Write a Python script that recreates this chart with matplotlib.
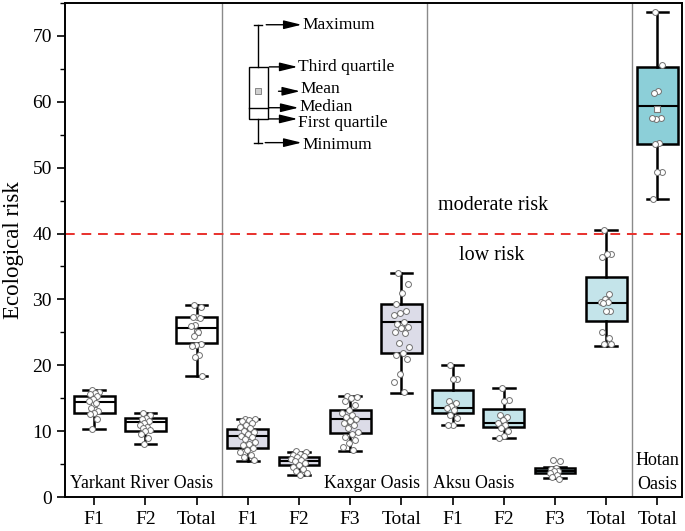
import matplotlib
matplotlib.use("Agg")
import matplotlib.pyplot as plt
import numpy as np
from matplotlib.ticker import MultipleLocator

plt.rcParams['font.family'] = ['Liberation Serif', 'DejaVu Serif']

# ---------------- data ----------------
categories = ["F1", "F2", "Total", "F1", "F2", "F3", "Total",
              "F1", "F2", "F3", "Total", "Total"]
group_names = ["Yarkant River Oasis", "Kaxgar Oasis", "Aksu Oasis", "Hotan\nOasis"]
box_group = [0, 0, 0, 1, 1, 1, 1, 2, 2, 2, 2, 3]

whislo = [10.3, 8.1, 18.3, 5.5, 3.4, 7.0, 15.8, 10.9, 9.0, 2.9, 23.0, 45.3]
q1 = [12.8, 10.0, 23.4, 7.5, 4.85, 9.65, 21.9, 12.8, 10.6, 3.7, 26.7, 53.6]
med = [14.4, 11.4, 25.7, 9.3, 5.45, 11.9, 26.5, 13.5, 11.3, 4.0, 29.4, 59.4]
q3 = [15.3, 12.0, 27.3, 10.3, 6.0, 13.2, 29.3, 16.2, 13.3, 4.35, 33.4, 65.3]
whishi = [16.2, 12.8, 29.1, 11.8, 6.9, 15.3, 34.0, 20.1, 16.5, 4.5, 40.5, 73.6]
means = [14.1, 11.0, 25.0, 9.2, 5.5, 11.6, 25.9, 14.0, 11.8, 4.0, 29.8, 58.9]

points = [
    [16.2, 16.0, 15.8, 15.6, 15.3, 14.9, 14.5, 14.3, 13.5, 13.0, 12.8, 12.6, 11.9, 10.3],
    [12.8, 12.5, 12.0, 11.9, 11.5, 11.2, 11.0, 10.7, 10.4, 10.2, 10.0, 9.6, 9.0, 8.1],
    [29.1, 28.9, 27.4, 27.3, 27.2, 26.1, 25.9, 25.0, 24.4, 23.3, 23.1, 23.0, 21.6, 21.3, 18.3],
    [11.9, 11.8, 11.7, 11.6, 11.2, 10.9, 10.6, 10.4, 10.0, 9.8, 9.6, 9.3, 9.1, 8.8,
     8.4, 8.1, 7.9, 7.5, 7.2, 6.9, 6.4, 6.0, 5.6],
    [7.0, 6.9, 6.6, 6.4, 6.2, 6.0, 5.8, 5.6, 5.4, 5.2, 4.9, 4.6, 4.3, 4.0, 3.7, 3.4],
    [15.3, 15.2, 15.0, 14.5, 13.9, 13.2, 12.8, 12.4, 12.1, 11.9, 11.6, 11.2, 10.9,
     10.5, 9.9, 9.5, 9.1, 8.6, 8.2, 7.6, 7.1],
    [34.0, 32.4, 31.0, 29.3, 28.2, 27.9, 27.6, 26.6, 26.2, 25.8, 25.6, 25.0, 24.9,
     23.4, 22.8, 21.9, 21.6, 21.0, 18.7, 17.4, 15.9],
    [20.1, 17.9, 17.9, 14.6, 14.2, 13.8, 13.5, 13.2, 12.5, 12.0, 11.0, 10.9],
    [16.5, 14.7, 14.6, 12.5, 12.1, 11.7, 11.3, 11.0, 10.5, 10.0, 9.3, 9.0],
    [5.6, 5.5, 4.4, 4.2, 4.0, 3.9, 3.7, 3.4, 3.0, 2.7],
    [40.5, 36.9, 36.9, 36.4, 30.8, 30.1, 29.6, 29.6, 29.5, 28.3, 28.2, 25.0, 24.2, 23.2, 23.2],
    [73.6, 65.6, 61.6, 61.4, 57.5, 57.4, 57.6, 53.7, 53.6, 49.4, 49.3, 45.3],
]

group_colors = ["white", "#dcdce8", "#c4e4ea", "#8ccfd8"]

legend_labels = ["Maximum", "Third quartile", "Mean", "Median", "First quartile", "Minimum"]

# ---------------- figure ----------------
fig = plt.figure(figsize=(6.85, 5.31), dpi=100)
ax = fig.add_axes([65 / 685, 1 - 497 / 531, (682 - 65) / 685, (497 - 3) / 531])

positions = np.arange(len(categories))
stats = []
for i in range(len(categories)):
    stats.append(dict(whislo=whislo[i], q1=q1[i], med=med[i], q3=q3[i],
                      whishi=whishi[i], mean=means[i], fliers=[]))

bp = ax.bxp(stats, positions=positions, widths=0.8, capwidths=0.42,
            patch_artist=True, showmeans=True, showfliers=False,
            boxprops=dict(edgecolor="black", linewidth=1.8),
            whiskerprops=dict(color="black", linewidth=1.8),
            capprops=dict(color="black", linewidth=1.8),
            medianprops=dict(color="black", linewidth=1.5),
            meanprops=dict(marker="s", markerfacecolor="white",
                           markeredgecolor="#777777", markersize=5,
                           markeredgewidth=0.8),
            zorder=2)
for i, patch in enumerate(bp["boxes"]):
    patch.set_facecolor(group_colors[box_group[i]])

# jittered points
for i, vals in enumerate(points):
    n = len(vals)
    spread = 0.16 if box_group[i] == 1 else 0.11
    offs = [spread * (2 * ((k * 0.618034 + 0.31) % 1.0) - 1) for k in range(n)]
    ax.scatter(positions[i] + np.array(offs), vals, s=18, facecolor="white",
               edgecolor="#707070", linewidth=0.7, zorder=4)

# separators and threshold
for xs in [2.5, 6.5, 10.5]:
    ax.axvline(xs, color="#8a8a8a", linewidth=1.0, zorder=1)
ax.axhline(40, color="#e8302c", linestyle=(0, (5, 3.5)), linewidth=1.4, zorder=1)

ax.text(7.79, 44.2, "moderate risk", fontsize=14.5, ha="center", va="center")
ax.text(7.77, 36.7, "low risk", fontsize=14.5, ha="center", va="center")

# group labels
ax.text(-0.47, 2.0, group_names[0], fontsize=12.8, ha="left", va="center")
ax.text(6.37, 2.0, group_names[1], fontsize=12.8, ha="right", va="center")
ax.text(6.62, 2.0, group_names[2], fontsize=12.8, ha="left", va="center")
ax.text(11.0, 3.7, group_names[3], fontsize=13, ha="center", va="center",
        linespacing=1.55)

# legend diagram (data coords)
lx = 3.2
ax.plot([lx, lx], [71.7, 65.3], color="black", lw=1.0)
ax.plot([lx, lx], [57.4, 53.8], color="black", lw=1.0)
ax.plot([lx - 0.08, lx + 0.08], [71.7, 71.7], color="black", lw=1.0)
ax.plot([lx - 0.08, lx + 0.08], [53.8, 53.8], color="black", lw=1.0)
ax.add_patch(plt.Rectangle((3.03, 57.4), 0.37, 7.9, facecolor="white",
                           edgecolor="black", lw=1.0))
ax.plot([3.03, 3.40], [59.1, 59.1], color="black", lw=1.0)
ax.plot([lx], [61.6], marker="s", markersize=4, markerfacecolor="#cfcfcf",
        markeredgecolor="#777777", markeredgewidth=0.6)

leg_y = [71.7, 65.3, 61.6, 59.1, 57.4, 53.8]
leg_text_y = [71.7, 65.3, 61.9, 59.2, 56.8, 53.5]
arrow_x0 = [3.36, 3.42, 3.6, 3.42, 3.42, 3.34]
arrow_x1 = [4.05, 3.97, 4.02, 3.99, 3.97, 4.05]
for k, lab in enumerate(legend_labels):
    ax.annotate("", xy=(arrow_x1[k], leg_y[k]), xytext=(arrow_x0[k], leg_y[k]),
                arrowprops=dict(arrowstyle="-|>,head_length=0.9,head_width=0.22",
                                color="black", lw=1.0,
                                mutation_scale=12, shrinkA=0, shrinkB=0))
    ax.text(arrow_x1[k] + 0.01, leg_text_y[k], lab, fontsize=12.5,
            ha="left", va="center")

# axes styling
ax.set_xlim(-0.57, 11.48)
ax.set_ylim(0, 75)
ax.set_xticks(positions)
ax.set_xticklabels(categories, fontsize=14)
ax.yaxis.set_major_locator(MultipleLocator(10))
ax.yaxis.set_minor_locator(MultipleLocator(5))
ax.tick_params(axis="y", which="major", labelsize=14, length=6, width=1.2, direction="out")
ax.tick_params(axis="y", which="minor", length=3.5, width=1.0, direction="out")
ax.tick_params(axis="x", which="major", length=6, width=1.2, direction="out", pad=4)
ax.set_ylabel("Ecological risk", fontsize=16.5, labelpad=6)
for sp in ax.spines.values():
    sp.set_linewidth(1.4)

fig.savefig("out.png", dpi=100)
